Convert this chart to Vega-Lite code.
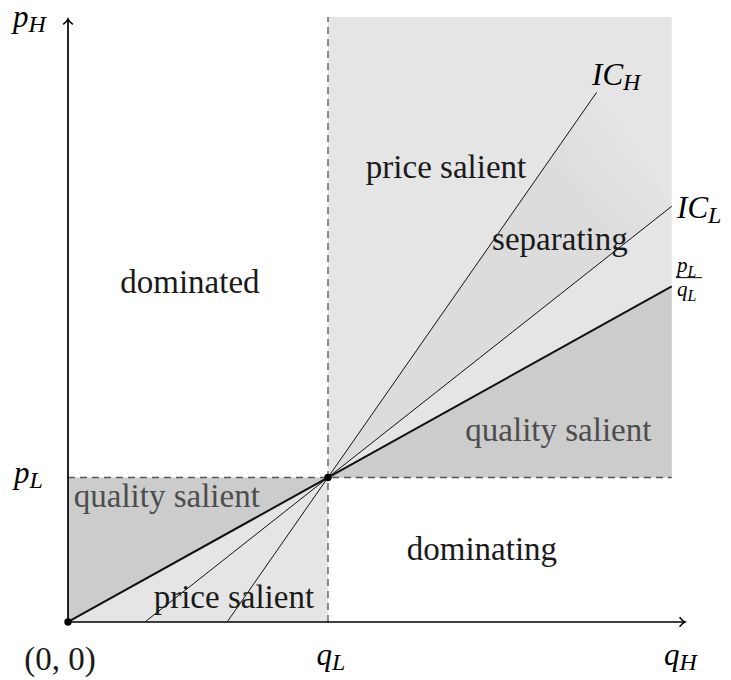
{
  "$schema": "https://vega.github.io/schema/vega-lite/v6.json",
  "width": 731,
  "height": 680,
  "autosize": {"type": "fit", "contains": "padding"},
  "padding": 0,
  "background": "white",
  "config": {"view": {"stroke": null}},
  "resolve": {"scale": {"color": "independent", "size": "independent", "angle": "independent"}},
  "datasets": {
    "rects": [{"x": 1, "x2": 2.322, "y": 1, "y2": 4.187}],
    "tri": [
      {"region": "dark_r", "x": 1, "lo": 1, "hi": 1},
      {"region": "dark_r", "x": 2.322, "lo": 1, "hi": 2.322},
      {"region": "dark_l", "x": 0, "lo": 0, "hi": 1},
      {"region": "dark_l", "x": 1, "lo": 1, "hi": 1},
      {"region": "light_l", "x": 0, "lo": 0, "hi": 0},
      {"region": "light_l", "x": 1, "lo": 0, "hi": 1}
    ],
    "hatch": [
      {"x": 1, "lo": 1, "hi": 1},
      {"x": 2.033, "lo": 2.467, "hi": 3.665},
      {"x": 2.322, "lo": 2.877, "hi": 2.877}
    ],
    "dashed": [
      {"x": 1, "y": 0, "x2": 1, "y2": 4.187},
      {"x": 0, "y": 1, "x2": 2.322, "y2": 1}
    ],
    "thin": [
      {"name": "IC_H", "x": 0.612, "y": 0, "x2": 2.033, "y2": 3.665},
      {"name": "IC_L", "x": 0.296, "y": 0, "x2": 2.322, "y2": 2.877}
    ],
    "diag": [{"x": 0, "y": 0, "x2": 2.322, "y2": 2.322}],
    "axes": [
      {"x": 0, "y": 0, "x2": 0, "y2": 4.17},
      {"x": 0, "y": 0, "x2": 2.37, "y2": 0}
    ],
    "arrows": [
      {"dir": "up", "x": 0, "y": 4.173},
      {"dir": "right", "x": 2.373, "y": 0}
    ],
    "dots": [{"x": 0, "y": 0}, {"x": 1, "y": 1}],
    "fracbar": [{"x": 2.338, "x2": 2.438, "y": 2.383}],
    "labels": [
      {"text": "dominated", "x": 0.469, "y": 2.277, "kind": "plain"},
      {"text": "price salient", "x": 1.454, "y": 3.075, "kind": "plain"},
      {"text": "separating", "x": 1.892, "y": 2.574, "kind": "plain"},
      {"text": "quality salient", "x": 1.886, "y": 1.255, "kind": "grey"},
      {"text": "dominating", "x": 1.592, "y": 0.429, "kind": "plain"},
      {"text": "quality salient", "x": 0.38, "y": 0.798, "kind": "grey"},
      {"text": "price salient", "x": 0.638, "y": 0.099, "kind": "plain"},
      {"text": "(0, 0)", "x": -0.031, "y": -0.335, "kind": "plain"}
    ],
    "math": [
      {"main": "p", "sub": "H", "x": -0.152, "y": 4.12, "size": "big"},
      {"main": "p", "sub": "L", "x": -0.148, "y": 0.962, "size": "big"},
      {"main": "q", "sub": "L", "x": 1.015, "y": -0.298, "size": "big"},
      {"main": "q", "sub": "H", "x": 2.352, "y": -0.298, "size": "big"},
      {"main": "IC", "sub": "H", "x": 2.135, "y": 3.716, "size": "big"},
      {"main": "IC", "sub": "L", "x": 2.462, "y": 2.796, "size": "big"},
      {"main": "p", "sub": "L", "x": 2.383, "y": 2.422, "size": "small"},
      {"main": "q", "sub": "L", "x": 2.383, "y": 2.256, "size": "small"}
    ]
  },
  "layer": [
    {
      "data": {"name": "rects"},
      "mark": {"type": "rect", "color": "#e5e5e5"},
      "encoding": {
        "x": {"field": "x", "type": "quantitative", "scale": {"domain": [-0.2615, 2.55], "nice": false, "zero": false}, "axis": null},
        "x2": {"field": "x2"},
        "y": {"field": "y", "type": "quantitative", "scale": {"domain": [-0.4014, 4.3045], "nice": false, "zero": false}, "axis": null},
        "y2": {"field": "y2"}
      }
    },
    {
      "data": {"name": "tri"},
      "mark": {"type": "area", "interpolate": "linear"},
      "encoding": {
        "x": {"field": "x", "type": "quantitative"},
        "y": {"field": "lo", "type": "quantitative"},
        "y2": {"field": "hi"},
        "color": {"field": "region", "type": "nominal", "scale": {"domain": ["dark_r", "dark_l", "light_l"], "range": ["#cccccc", "#cccccc", "#e5e5e5"]}, "legend": null}
      }
    },
    {
      "data": {"name": "hatch"},
      "mark": {
        "type": "area",
        "interpolate": "linear",
        "color": {
          "gradient": "linear",
          "x1": 0, "y1": 1, "x2": 1, "y2": 0,
          "stops": [
            {"offset": 0, "color": "#dcdcdc"},
            {"offset": 0.72, "color": "#dcdcdc"},
            {"offset": 0.9, "color": "#e5e5e5"}
          ]
        }
      },
      "encoding": {
        "x": {"field": "x", "type": "quantitative"},
        "y": {"field": "lo", "type": "quantitative"},
        "y2": {"field": "hi"}
      }
    },
    {
      "data": {"name": "dashed"},
      "mark": {"type": "rule", "color": "#555555", "strokeWidth": 1.3, "strokeDash": [7, 5]},
      "encoding": {
        "x": {"field": "x", "type": "quantitative"},
        "y": {"field": "y", "type": "quantitative"},
        "x2": {"field": "x2"},
        "y2": {"field": "y2"}
      }
    },
    {
      "data": {"name": "thin"},
      "mark": {"type": "rule", "color": "#111111", "strokeWidth": 1},
      "encoding": {
        "x": {"field": "x", "type": "quantitative"},
        "y": {"field": "y", "type": "quantitative"},
        "x2": {"field": "x2"},
        "y2": {"field": "y2"}
      }
    },
    {
      "data": {"name": "diag"},
      "mark": {"type": "rule", "color": "#111111", "strokeWidth": 2},
      "encoding": {
        "x": {"field": "x", "type": "quantitative"},
        "y": {"field": "y", "type": "quantitative"},
        "x2": {"field": "x2"},
        "y2": {"field": "y2"}
      }
    },
    {
      "data": {"name": "axes"},
      "mark": {"type": "rule", "color": "#000000", "strokeWidth": 1.7},
      "encoding": {
        "x": {"field": "x", "type": "quantitative"},
        "y": {"field": "y", "type": "quantitative"},
        "x2": {"field": "x2"},
        "y2": {"field": "y2"}
      }
    },
    {
      "data": {"name": "arrows"},
      "mark": {"type": "point", "shape": "M -0.8 0.9 Q -0.15 0.4 0 0 Q 0.15 0.4 0.8 0.9", "filled": false, "color": "#000000", "strokeWidth": 1.5, "size": 144, "opacity": 1},
      "encoding": {
        "x": {"field": "x", "type": "quantitative"},
        "y": {"field": "y", "type": "quantitative"},
        "angle": {"field": "dir", "type": "nominal", "scale": {"domain": ["up", "right"], "range": [0, 90]}, "legend": null}
      }
    },
    {
      "data": {"name": "dots"},
      "mark": {"type": "point", "shape": "circle", "filled": true, "color": "#000000", "size": 55, "opacity": 1},
      "encoding": {
        "x": {"field": "x", "type": "quantitative"},
        "y": {"field": "y", "type": "quantitative"}
      }
    },
    {
      "data": {"name": "fracbar"},
      "mark": {"type": "rule", "color": "#000000", "strokeWidth": 1},
      "encoding": {
        "x": {"field": "x", "type": "quantitative"},
        "x2": {"field": "x2"},
        "y": {"field": "y", "type": "quantitative"}
      }
    },
    {
      "data": {"name": "labels"},
      "mark": {"type": "text", "font": "Liberation Serif", "fontSize": 33, "align": "center", "baseline": "alphabetic"},
      "encoding": {
        "x": {"field": "x", "type": "quantitative"},
        "y": {"field": "y", "type": "quantitative"},
        "text": {"field": "text"},
        "color": {"field": "kind", "type": "nominal", "scale": {"domain": ["plain", "grey"], "range": ["#1a1a1a", "#4d4d4d"]}, "legend": null}
      }
    },
    {
      "data": {"name": "math"},
      "mark": {"type": "text", "font": "Liberation Serif", "fontStyle": "italic", "align": "right", "baseline": "alphabetic", "color": "#000000"},
      "encoding": {
        "x": {"field": "x", "type": "quantitative"},
        "y": {"field": "y", "type": "quantitative"},
        "text": {"field": "main"},
        "size": {"field": "size", "type": "nominal", "scale": {"domain": ["big", "small"], "range": [31, 21]}, "legend": null}
      }
    },
    {
      "data": {"name": "math"},
      "mark": {"type": "text", "font": "Liberation Serif", "fontStyle": "italic", "align": "left", "baseline": "alphabetic", "dy": 5, "color": "#000000"},
      "encoding": {
        "x": {"field": "x", "type": "quantitative"},
        "y": {"field": "y", "type": "quantitative"},
        "text": {"field": "sub"},
        "size": {"field": "size", "type": "nominal", "scale": {"domain": ["big", "small"], "range": [24, 16]}, "legend": null}
      }
    }
  ]
}
